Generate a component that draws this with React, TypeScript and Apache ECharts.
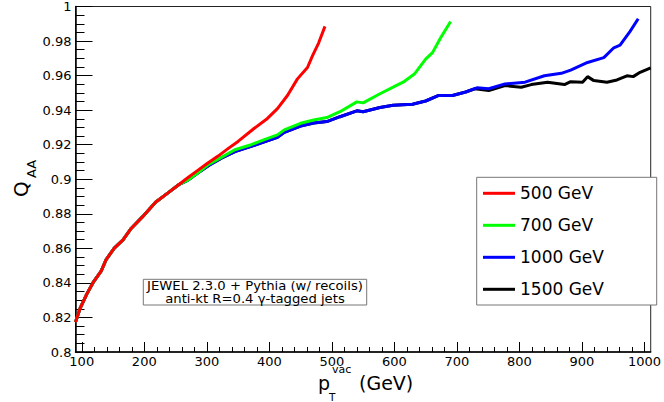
import React, { useEffect, useRef } from "react";
import * as echarts from "echarts";

// Common low-pT trunk shared by all curves
const trunkX = [90, 97, 108, 118, 131, 139, 152, 166, 179, 197, 218, 239, 255];
const trunkY = [0.8173, 0.8249, 0.8335, 0.8401, 0.8468, 0.8535, 0.8601, 0.8649, 0.8715, 0.8782, 0.8867, 0.8924, 0.8968];

const red500X = [...trunkX, 270, 285, 300, 318, 335, 350, 376, 397, 413, 429, 445, 461, 469, 479, 489];
const red500Y = [...trunkY, 0.901, 0.905, 0.909, 0.9134, 0.918, 0.9219, 0.9295, 0.9352, 0.9409, 0.9485, 0.9581, 0.9647, 0.9714, 0.979, 0.9885];

const green700X = [...trunkX, 270, 285, 303, 324, 345, 371, 392, 413, 424, 450, 471, 492, 513, 540, 550, 577, 598, 614, 632, 650, 661, 674, 690];
const green700Y = [...trunkY, 0.8995, 0.9035, 0.9086, 0.9128, 0.9171, 0.92, 0.9229, 0.9257, 0.9286, 0.9324, 0.9343, 0.9357, 0.9391, 0.9448, 0.9442, 0.9495, 0.9533, 0.9562, 0.9609, 0.9695, 0.9733, 0.9819, 0.9913];

const sharedHighX = [270, 285, 303, 324, 345, 371, 392, 413, 424, 450, 471, 492, 513, 540, 550, 577, 598, 629, 650, 671, 693, 714];
const sharedHighY = [0.8995, 0.9035, 0.908, 0.9124, 0.916, 0.919, 0.9216, 0.9243, 0.9272, 0.9308, 0.9326, 0.9334, 0.9362, 0.9396, 0.9391, 0.9415, 0.9428, 0.9434, 0.9453, 0.9485, 0.9485, 0.9505];

const blue1000X = [...trunkX, ...sharedHighX, 732, 751, 777, 809, 840, 867, 882, 909, 935, 951, 961, 977, 990];
const blue1000Y = [...trunkY, ...sharedHighY, 0.9529, 0.9524, 0.9552, 0.9562, 0.9599, 0.9613, 0.9632, 0.9676, 0.9704, 0.9761, 0.9776, 0.9856, 0.9929];

const black1500X = [...trunkX, ...sharedHighX, 729, 751, 777, 803, 819, 845, 872, 882, 901, 909, 919, 940, 956, 972, 982, 993, 1010];
const black1500Y = [...trunkY, ...sharedHighY, 0.9524, 0.9514, 0.9542, 0.9533, 0.9548, 0.9562, 0.9548, 0.9565, 0.9562, 0.9594, 0.9571, 0.9562, 0.9575, 0.9599, 0.9594, 0.9619, 0.9645];

const legendNames = ["500 GeV", "700 GeV", "1000 GeV", "1500 GeV"];
const xMajorTicks = [100, 200, 300, 400, 500, 600, 700, 800, 900, 1000];
const xMinorTicks = [120, 140, 160, 180, 220, 240, 260, 280, 320, 340, 360, 380, 420, 440, 460, 480, 520, 540, 560, 580, 620, 640, 660, 680, 720, 740, 760, 780, 820, 840, 860, 880, 920, 940, 960, 980];
const infoLines = ["JEWEL 2.3.0 + Pythia (w/ recoils)", "anti-kt R=0.4 γ-tagged jets"];

const FONT = "'DejaVu Sans', 'Liberation Sans', Arial, sans-serif";

function zip(xs: number[], ys: number[]) {
  return xs.map((x, i) => [x, ys[i]]);
}

export default function App() {
  const ref = useRef<HTMLDivElement>(null);
  useEffect(() => {
    const chart = echarts.init(ref.current!, null, { renderer: "svg" });
    const mkSeries = (name: string, xs: number[], ys: number[], color: string) => ({
      name,
      type: "line",
      data: zip(xs, ys),
      showSymbol: false,
      symbol: "none",
      clip: true,
      lineStyle: { width: 3, color },
      itemStyle: { color },
      z: 2,
    });
    const txt = (text: string, x: number, y: number, fontSize: number, align = "left", rotation = 0, extra: any = {}) => ({
      type: "text",
      x,
      y,
      z: 6,
      rotation,
      style: { text, fontSize, fontFamily: FONT, fill: "#000", align, verticalAlign: "middle", ...extra },
    });
    chart.setOption({
      animation: false,
      backgroundColor: "#fff",
      grid: {
        left: 75.5,
        right: 6.3,
        top: 1.5,
        bottom: 50,
        show: true,
        borderColor: "#222",
        borderWidth: 1,
        backgroundColor: "transparent",
      },
      xAxis: [
        {
          type: "value",
          min: 90,
          max: 1010,
          position: "bottom",
          axisLine: { show: true, onZero: false, lineStyle: { color: "#000", width: 1.5 } },
          axisTick: { show: true, inside: true, length: 10, customValues: xMajorTicks, lineStyle: { color: "#000", width: 1 } },
          axisLabel: {
            show: true,
            customValues: xMajorTicks,
            fontSize: 13,
            color: "#000",
            margin: 3,
            fontFamily: FONT,
            formatter: (v: number) => String(v),
          },
          splitLine: { show: false },
        },
        {
          type: "value",
          min: 90,
          max: 1010,
          position: "bottom",
          axisLine: { show: false },
          axisTick: { show: true, inside: true, length: 5, customValues: xMinorTicks, lineStyle: { color: "#000", width: 1 } },
          axisLabel: { show: false },
          splitLine: { show: false },
        },
      ],
      yAxis: {
        type: "value",
        min: 0.8,
        max: 1,
        interval: 0.02,
        axisLine: { show: true, onZero: false, lineStyle: { color: "#000", width: 1.5 } },
        axisTick: { show: true, inside: true, length: 17, lineStyle: { color: "#000", width: 1 } },
        minorTick: { show: true, splitNumber: 4, length: 9, lineStyle: { color: "#000", width: 1 } },
        axisLabel: {
          fontSize: 13,
          color: "#000",
          margin: 4,
          fontFamily: FONT,
          formatter: (v: number) => String(+v.toFixed(2)),
        },
        splitLine: { show: false },
        minorSplitLine: { show: false },
      },
      legend: {
        data: legendNames,
        orient: "vertical",
        left: 483,
        top: 184.8,
        padding: 0,
        itemWidth: 32,
        itemHeight: 3,
        itemGap: 15,
        icon: "rect",
        selectedMode: false,
        textStyle: { fontSize: 17, color: "#000", fontFamily: FONT },
        z: 10,
      },
      graphic: [
        {
          type: "rect",
          z: 5,
          shape: { x: 476.7, y: 177.3, width: 180, height: 127.7 },
          style: { fill: "#fff", stroke: "#777", lineWidth: 1 },
        },
        {
          type: "rect",
          z: 5,
          shape: { x: 143.3, y: 279.3, width: 223.4, height: 25.7 },
          style: { fill: "#fff", stroke: "#777", lineWidth: 1 },
        },
        { ...txt(infoLines[0], 255, 285.6, 12, "center"), scaleX: 1.1 },
        { ...txt(infoLines[1], 255, 298.4, 12, "center"), scaleX: 1.1 },
        // y-axis title Q_AA
        txt("Q", 21, 189, 20, "center", Math.PI / 2),
        txt("AA", 31, 169, 13, "center", Math.PI / 2),
        // x-axis title p_T^vac (GeV)
        txt("p", 318, 383, 19),
        txt("vac", 332, 369, 11),
        txt("T", 329, 397, 10.5),
        txt("(GeV)", 359, 383, 19),
      ],
      series: [
        mkSeries("1500 GeV", black1500X, black1500Y, "#000000"),
        mkSeries("1000 GeV", blue1000X, blue1000Y, "#0000ff"),
        mkSeries("700 GeV", green700X, green700Y, "#00ff00"),
        mkSeries("500 GeV", red500X, red500Y, "#ff0000"),
      ],
    });
    return () => chart.dispose();
  }, []);
  return <div ref={ref} style={{ position: "fixed", left: 0, top: 0, width: 664, height: 402 }} />;
}
